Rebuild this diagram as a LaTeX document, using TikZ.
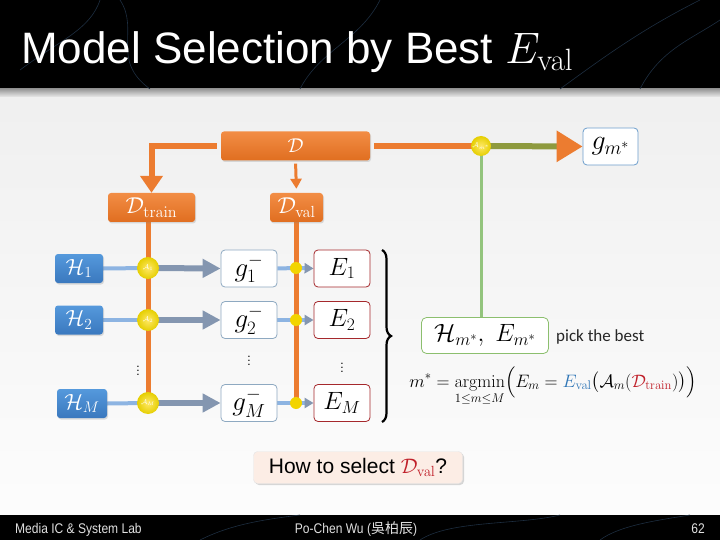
\RequirePackage{fix-cm}
\documentclass[tikz,border=0pt]{standalone}
\usepackage{amsmath}
\usepackage[no-math]{fontspec}
\setmainfont{Liberation Sans}
\newfontfamily\cjkfont{Noto Sans CJK TC}
\newfontfamily\calibrifont{Carlito}
\usetikzlibrary{arrows.meta,decorations.pathreplacing,shadows}
\definecolor{orgC}{HTML}{EC7C30}
\definecolor{orgT}{HTML}{F28D45}
\definecolor{orgB}{HTML}{E06E20}
\definecolor{bluT}{HTML}{5599DC}
\definecolor{bluB}{HTML}{3A78BE}
\definecolor{lbluC}{HTML}{8DB4E2}
\definecolor{grayC}{HTML}{8496B0}
\definecolor{greenC}{HTML}{93C47D}
\definecolor{oliveC}{HTML}{8E9A3E}
\definecolor{gbord}{HTML}{8EA9C1}
\definecolor{ebord}{HTML}{A5282C}
\definecolor{hbord}{HTML}{8CBF6E}
\definecolor{evalC}{HTML}{2E75B6}
\definecolor{redC}{HTML}{C0202A}
\definecolor{howfill}{HTML}{FCEDE5}
\definecolor{wisp}{HTML}{1D2E40}
\pgfdeclarelayer{back}
\pgfdeclarelayer{lines}
\pgfsetlayers{back,lines,main}
\tikzset{
  obox/.style={rounded corners=3pt, top color=orgT, bottom color=orgB, draw=none, text=white, inner sep=0pt,
    drop shadow={opacity=0.25, shadow xshift=1pt, shadow yshift=-1.5pt}},
  hbox/.style={rounded corners=3pt, top color=bluT, bottom color=bluB, draw=none, text=white, inner sep=0pt,
    minimum width=48pt, minimum height=29pt, font=\fontsize{22}{24}\selectfont,
    drop shadow={opacity=0.25, shadow xshift=1pt, shadow yshift=-1.5pt}},
  gbox/.style={rounded corners=4pt, fill=white, draw=gbord, line width=0.8pt, inner sep=0pt,
    minimum width=56pt, minimum height=37pt, font=\fontsize{27}{30}\selectfont},
  ebox/.style={rounded corners=4pt, fill=white, draw=ebord, line width=0.8pt, inner sep=0pt,
    minimum width=56pt, minimum height=37pt, font=\fontsize{25}{28}\selectfont},
  acirc/.style={circle, shading=radial, inner color=yellow!70!orange!60, outer color=orange!20!yellow!90!black,
    minimum size=22pt, inner sep=0pt, text=white, font=\fontsize{7}{8}\selectfont},
  sdot/.style={circle, fill=orange!25!yellow!95!black, minimum size=12pt, inner sep=0pt},
  oline/.style={draw=orgC, line width=5pt},
  lbline/.style={draw=lbluC, line width=4pt},
  gyarrow/.style={draw=grayC, line width=6pt, -{Triangle[width=18pt,length=18pt]}},
  vd/.style={font=\fontsize{12}{12}\selectfont, inner sep=0pt},
  foot/.style={text=black!12, inner sep=0pt, font=\fontsize{14}{16}\selectfont}
}
\begin{document}
\begin{tikzpicture}[x=1pt,y=-1pt]
\useasboundingbox (0,0) rectangle (720,540);
\begin{pgfonlayer}{back}
  \fill[top color=black!6, bottom color=black!1] (0,95) rectangle (720,515);
  \fill[black] (0,0) rectangle (720,89);
  \fill[top color=black!40, bottom color=black!8] (0,89) rectangle (720,97);
  \fill[black] (0,515) rectangle (720,540);
  \draw[wisp, line width=0.6pt] (120,0) .. controls (140,30) and (110,60) .. (150,89);
  \draw[wisp, line width=0.6pt] (300,89) .. controls (320,50) and (360,40) .. (380,0);
  \draw[wisp, line width=0.6pt] (560,89) .. controls (600,60) and (640,30) .. (700,0);
  \draw[wisp, line width=0.6pt] (640,89) .. controls (660,50) and (690,40) .. (720,20);
  \draw[wisp, line width=0.6pt] (20,70) .. controls (60,40) and (90,30) .. (100,0);
  \draw[wisp, line width=0.6pt] (200,540) .. controls (230,525) and (260,520) .. (300,515);
  \draw[wisp, line width=0.6pt] (420,540) .. controls (450,520) and (520,525) .. (560,515);
  \draw[wisp, line width=0.6pt] (600,540) .. controls (620,525) and (660,520) .. (690,515);
\end{pgfonlayer}

% title and footer
\node[anchor=base west, text=white, inner sep=0pt, font=\fontsize{44}{50}\selectfont] (title) at (21,64)
  {Model Selection by Best $E_{\mathrm{val}}$};
\node[foot, anchor=base west] (foot1) at (15,533)
  {\addfontfeatures{FakeStretch=0.86}Media IC \& System Lab};
\node[foot, anchor=base] (foot2) at (356,533)
  {\addfontfeatures{FakeStretch=0.86}Po-Chen Wu ({\cjkfont 吳柏辰})};
\node[foot, anchor=base east] (foot3) at (705,533) {\addfontfeatures{FakeStretch=0.86}62};

% data nodes
\node[obox, minimum width=149pt, minimum height=29pt, font=\fontsize{20}{22}\selectfont] (D) at (295.5,146) {$\mathcal{D}$};
\node[obox, minimum width=87pt, minimum height=29pt, font=\fontsize{23}{25}\selectfont] (Dtr) at (151.5,207.5) {$\mathcal{D}_{\mathrm{train}}$};
\node[obox, minimum width=53pt, minimum height=29pt, font=\fontsize{23}{25}\selectfont] (Dva) at (296.5,207.5) {$\mathcal{D}_{\mathrm{val}}$};
\node[rounded corners=4pt, fill=white, draw=evalC!70, line width=0.8pt, minimum width=55pt, minimum height=37pt,
  inner sep=0pt, font=\fontsize{28}{30}\selectfont] (gms) at (610.5,146.5) {$g_{m^*}$};
\node[acirc, minimum size=20pt] (Ams) at (481,146) {$\mathcal{A}_{m^*}$};

% hypothesis rows
\node[hbox] (H1) at (79,268.5) {$\mathcal{H}_1$};
\node[hbox] (H2) at (79,320) {$\mathcal{H}_2$};
\node[hbox, minimum width=50pt] (HM) at (82,403.5) {$\mathcal{H}_M$};
\node[acirc] (A1) at (148,268) {$\mathcal{A}_1$};
\node[acirc] (A2) at (148,320) {$\mathcal{A}_2$};
\node[acirc] (AM) at (148,403) {$\mathcal{A}_M$};
\node[gbox] (g1) at (249,268.5) {$g_1^-$};
\node[gbox] (g2) at (249,320) {$g_2^-$};
\node[gbox] (gM) at (249,403) {$g_M^-$};
\node[sdot] (s1) at (296,268) {};
\node[sdot] (s2) at (296,320) {};
\node[sdot] (sM) at (296,403) {};
\node[ebox] (E1) at (342,268.5) {$E_1$};
\node[ebox] (E2) at (342,320) {$E_2$};
\node[ebox] (EM) at (342,403) {$E_M$};
\node[vd] (v1) at (138,368) {$\vdots$};
\node[vd] (v2) at (249,358) {$\vdots$};
\node[vd] (v3) at (342,365) {$\vdots$};

% best
\node[rounded corners=5pt, fill=white, draw=hbord, line width=0.8pt, minimum width=127pt, minimum height=36pt,
  inner sep=0pt, font=\fontsize{25}{28}\selectfont] (Hms) at (485,335.5) {$\mathcal{H}_{m^*},\ E_{m^*}$};
\node[anchor=base west, inner sep=0pt, font=\calibrifont\fontsize{17}{20}\selectfont, text=black!85] (pick) at (556,341) {pick the best};
\node[inner sep=0pt, font=\fontsize{18}{21}\selectfont] (formula) at (553,386)
  {$\displaystyle m^* = \operatorname*{argmin}_{1\le m\le M}\Bigl(E_m = {\color{evalC}E_{\mathrm{val}}}\bigl(\mathcal{A}_m({\color{redC}\mathcal{D}_{\mathrm{train}}})\bigr)\Bigr)$};

\node[rounded corners=4pt, fill=howfill, draw=black!10, line width=0.4pt, minimum width=209pt, minimum height=32pt,
  inner sep=0pt, font=\fontsize{21}{24}\selectfont,
  drop shadow={opacity=0.3, shadow xshift=1.5pt, shadow yshift=-1.5pt}] (how) at (358,467.5)
  {How to select ${\color{redC}\mathcal{D}_{\mathrm{val}}}$?};

% brace
\draw[decorate, decoration={brace, amplitude=9pt}, line width=2.2pt] (382,250) -- (382,422);

\begin{pgfonlayer}{lines}
  \draw[draw=orgC, line width=6pt, -{Triangle[width=22pt,length=17pt]}] ([xshift=-4pt]D.west) -| (Dtr.north);
  \draw[draw=orgC, line width=3pt, -{Triangle[width=11pt,length=10pt]}, shorten <=3pt, shorten >=4pt] (D.south) -- (Dva.north);
  \draw[draw=orgC, line width=6pt] ([xshift=4pt]D.east) -- (Ams.center);
  \draw[draw=oliveC, line width=6pt, -{Triangle[width=30pt,length=26pt,color=orgC]}] (Ams.center) -- (gms.west);
  \draw[draw=greenC, line width=3pt] (Ams.center) -- (Ams |- Hms.north);
  \draw[oline] (A1 |- Dtr.south) -- (AM.center);
  \draw[oline] (s1 |- Dva.south) -- (sM.center);
  \foreach \r in {1,2,M}{
    \draw[lbline] (H\r.east) -- (A\r.center);
    \draw[gyarrow] (A\r.center) -- (g\r.west);
    \draw[lbline] (g\r.east) -- (s\r.center);
    \draw[draw=lbluC, line width=4pt, -{Triangle[width=10pt,length=9pt,color=grayC]}] (s\r.center) -- (E\r.west);
  }
\end{pgfonlayer}
\end{tikzpicture}
\end{document}
